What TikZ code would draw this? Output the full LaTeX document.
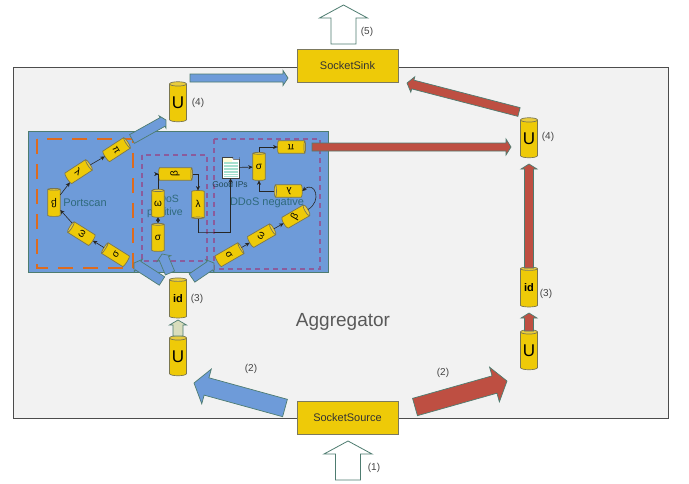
\documentclass[tikz,border=0pt]{standalone}
\usepackage{fontspec}
\usepackage{graphicx}
\setmainfont{Liberation Sans}
\usetikzlibrary{shapes.geometric,calc,arrows.meta}
\definecolor{boxyellow}{HTML}{EECA08}
\definecolor{capyellow}{HTML}{E9CC3C}
\definecolor{edgegrey}{HTML}{7A7650}
\definecolor{bluefill}{HTML}{6E9BD9}
\definecolor{redfill}{HTML}{BE4F42}
\definecolor{greenedge}{HTML}{4E7C70}
\definecolor{panelgrey}{HTML}{F2F2F2}
\definecolor{dashorange}{HTML}{DD6B1E}
\definecolor{dashpurple}{HTML}{8B5C9C}
\definecolor{tealtext}{HTML}{2F6A7C}
\definecolor{palegreen}{HTML}{D9DDBC}
\definecolor{labelgrey}{HTML}{444444}
\tikzset{
  bigbox/.style={draw=edgegrey!70!gray,fill=boxyellow,line width=0.8pt,minimum width=101pt,minimum height=33.5pt,inner sep=0pt,font=\fontsize{11}{13}\selectfont,text=black!80},
  smallcyl/.style={shape=cylinder,draw=edgegrey,line width=0.7pt,cylinder uses custom fill,cylinder body fill=boxyellow,cylinder end fill=capyellow,aspect=0.3,minimum width=12.5pt,inner sep=0pt,outer sep=0pt},
  bigcyl/.style={shape=cylinder,shape border rotate=90,draw=edgegrey,line width=0.7pt,cylinder uses custom fill,cylinder body fill=boxyellow,cylinder end fill=capyellow,aspect=0.35,minimum width=17pt,minimum height=40pt,inner sep=0pt,outer sep=0pt},
  blueflow/.style={draw=greenedge,fill=bluefill,line width=0.7pt},
  redflow/.style={draw=greenedge,fill=redfill,line width=0.7pt},
  whiteflow/.style={draw=greenedge,fill=white,line width=0.8pt},
  paleflow/.style={draw=greenedge,fill=palegreen,line width=0.7pt},
  link/.style={draw=black!85,line width=0.6pt,-{Stealth[length=4.5pt,width=4pt]}},
  steplabel/.style={font=\fontsize{10}{12}\selectfont,text=labelgrey,inner sep=0pt},
  regionlabel/.style={font=\fontsize{11}{13}\selectfont,text=tealtext,inner sep=0pt,align=center}
}
% name x y axis-angle length label text-angle
\newcommand\mycyl[7]{%
  \pgfmathsetmacro\myturn{#7-#4}%
  \node[smallcyl,rotate=#4,minimum height=#5pt] (#1) at (#2,#3) {\rotatebox{\myturn}{\fontsize{10}{10}\selectfont #6}};}
% from to shaft head headlength style
\newcommand\blockarrow[6]{%
  \coordinate (hb) at ($(#2)!#5pt!(#1)$);
  \draw[#6] ($(#1)!#3/2!90:(#2)$) -- ($(hb)!#3/2!-90:(#1)$) -- ($(hb)!#4/2!-90:(#1)$) -- (#2)
    -- ($(hb)!#4/2!90:(#1)$) -- ($(hb)!#3/2!90:(#1)$) -- ($(#1)!#3/2!-90:(#2)$) -- cycle;}
\begin{document}
\begin{tikzpicture}[x=1pt,y=-1pt]
\useasboundingbox[fill=white] (0,0) rectangle (689,483);
% panels
\draw[draw=black!70,fill=panelgrey,line width=0.8pt] (13,67) rectangle (668,418);
\node[font=\fontsize{19}{22}\selectfont,text=black!65,inner sep=0pt] (aggregator) at (343,322) {Aggregator};
\node[bigbox] (sink) at (347.5,66) {SocketSink};
\node[bigbox] (source) at (347.5,418) {SocketSource};
\draw[draw=greenedge,fill=bluefill,line width=1pt] (28,131) rectangle (328,272.5);
\draw[dashorange,line width=2pt,dash pattern=on 15pt off 10pt] (37,139) rectangle (133,268);
\draw[dashpurple,line width=2pt,dash pattern=on 5pt off 4pt] (142,155) rectangle (207,261);
\draw[dashpurple,line width=2pt,dash pattern=on 5pt off 4pt] (214,139) rectangle (320,269);
% region texts
\node[regionlabel] (portlabel) at (85,203) {Portscan};
\node[regionlabel,font=\fontsize{10.5}{13}\selectfont] (doslabel) at (165,206) {DDoS\\positive};
\node[regionlabel] (ddoslabel) at (267,203) {DDoS negative};
% portscan
\mycyl{pa}{116}{255}{148}{27}{σ}{58}
\mycyl{pb}{82}{234}{148}{27}{ω}{58}
\mycyl{pc}{54}{203}{90}{28}{β}{180}
\mycyl{pd}{78}{172}{33}{27}{λ}{-30}
\mycyl{pe}{116}{150}{33}{27}{π}{-60}
\draw[link] (pa) -- (pb);
\draw[link] (pb) -- (pc);
\draw[link] (pc) -- (pd);
\draw[link] (pd) -- (pe);
% ddos positive
\mycyl{qa}{158}{238}{90}{28}{σ}{0}
\mycyl{qb}{158}{204}{90}{28}{ω}{0}
\mycyl{qc}{175}{174}{0}{34}{β}{90}
\mycyl{qd}{198}{204}{270}{28}{λ}{0}
\draw[link,{Stealth[length=4pt,width=4pt]}-{Stealth[length=4pt,width=4pt]}] (qa) -- (qb);
\draw[link] (qb.east) |- (qc.west);
\draw[link] (qc.east) -| (qd.west);
% good ips
\node[draw=black!75,fill=white,minimum width=17pt,minimum height=21pt,inner sep=0pt] (folder) at (230.5,167.5) {};
\fill[bluefill] (233,156.5) -- (239.5,156.5) -- (239.5,159.2) -- (233.6,159.2) -- cycle;
\draw[black!75,line width=0.5pt] (232,157) -- (233.5,159.3) -- (239,159.3);
\fill[yellow!15] (222.5,157.5) rectangle (232,162);
\fill[cyan!45!green!35] (223.5,162) rectangle (238,176.5);
\foreach \ys in {164,167,170,173,175.5}{\draw[white,line width=0.7pt] (223.5,\ys) -- (238,\ys);}
\node[font=\fontsize{8.5}{10}\selectfont,text=tealtext!70!black,inner sep=0pt] (goodlabel) at (230,184) {Good IPs};
% ddos negative
\mycyl{ra}{229}{255}{30}{28}{σ}{-60}
\mycyl{rb}{261}{236}{30}{28}{ω}{60}
\mycyl{rc}{295}{217}{30}{28}{β}{60}
\mycyl{rd}{289}{191}{180}{28}{λ}{180}
\mycyl{re}{259}{167}{90}{28}{σ}{0}
\mycyl{rf}{291}{147}{0}{28}{π}{180}
\draw[link] (ra) -- (rb);
\draw[link] (rb) -- (rc);
\draw[link] (rc.east) to[out=30,in=40,looseness=2.2] (rd.west);
\draw[link] (rd.east) -| (re.west);
\draw[link] (re.east) |- (rf.west);
\draw[link] (folder) -- (re);
\coordinate (via) at (198,232);
\draw[link] (qd.east) |- (via) -| (folder.south);
% big cylinders
\node[bigcyl] (lu) at (178,357) {\fontsize{17}{18}\selectfont U};
\node[bigcyl] (lid) at (178,299) {\fontsize{11}{12}\selectfont\bfseries id};
\node[bigcyl] (ltop) at (178,103) {\fontsize{17}{18}\selectfont U};
\node[bigcyl] (ru) at (529,351) {\fontsize{17}{18}\selectfont U};
\node[bigcyl] (rid) at (529,288) {\fontsize{11}{12}\selectfont\bfseries id};
\node[bigcyl] (rtop) at (529,139) {\fontsize{17}{18}\selectfont U};
% step labels
\node[steplabel] (n5) at (367,32) {(5)};
\node[steplabel] (n1) at (374,468) {(1)};
\node[steplabel] (n2a) at (251,369) {(2)};
\node[steplabel] (n2b) at (443,373) {(2)};
\node[steplabel] (n3a) at (197,299) {(3)};
\node[steplabel] (n3b) at (546,294) {(3)};
\node[steplabel] (n4a) at (198,103) {(4)};
\node[steplabel] (n4b) at (548,137) {(4)};
% block arrows
\coordinate (a1) at (343.5,44); \coordinate (a2) at (343.5,5);
\blockarrow{a1}{a2}{25pt}{48pt}{13}{whiteflow}
\coordinate (b1) at (348,480); \coordinate (b2) at (348,441);
\blockarrow{b1}{b2}{25pt}{48pt}{13}{whiteflow}
\coordinate (c1) at (190,78); \coordinate (c2) at (288,78);
\blockarrow{c1}{c2}{8pt}{15pt}{5}{blueflow}
\coordinate (d1) at (519,112); \coordinate (d2) at (407,83);
\blockarrow{d1}{d2}{9pt}{16pt}{6}{redflow}
\coordinate (e1) at (312,147); \coordinate (e2) at (511,147);
\blockarrow{e1}{e2}{8pt}{16pt}{5}{redflow}
\coordinate (f1) at (529,268); \coordinate (f2) at (529,164);
\blockarrow{f1}{f2}{9pt}{16pt}{5}{redflow}
\coordinate (g1) at (529,331); \coordinate (g2) at (529,313);
\blockarrow{g1}{g2}{9pt}{16pt}{5}{redflow}
\coordinate (h1) at (178,336); \coordinate (h2) at (178,320);
\blockarrow{h1}{h2}{10pt}{17pt}{5}{paleflow}
\coordinate (i1) at (162,281); \coordinate (i2) at (134,263);
\blockarrow{i1}{i2}{10pt}{15pt}{5}{blueflow}
\coordinate (j1) at (170,273); \coordinate (j2) at (162,254);
\blockarrow{j1}{j2}{10pt}{15pt}{5}{blueflow}
\coordinate (k1) at (192,278); \coordinate (k2) at (214,263);
\blockarrow{k1}{k2}{10pt}{15pt}{5}{blueflow}
\coordinate (l1) at (132,139); \coordinate (l2) at (166,120);
\blockarrow{l1}{l2}{10pt}{14pt}{4}{blueflow}
\coordinate (m1) at (285,408); \coordinate (m2) at (194,383);
\blockarrow{m1}{m2}{18pt}{36pt}{13}{blueflow}
\coordinate (o1) at (415,407); \coordinate (o2) at (507,381);
\blockarrow{o1}{o2}{18pt}{36pt}{13}{redflow}
\end{tikzpicture}
\end{document}
